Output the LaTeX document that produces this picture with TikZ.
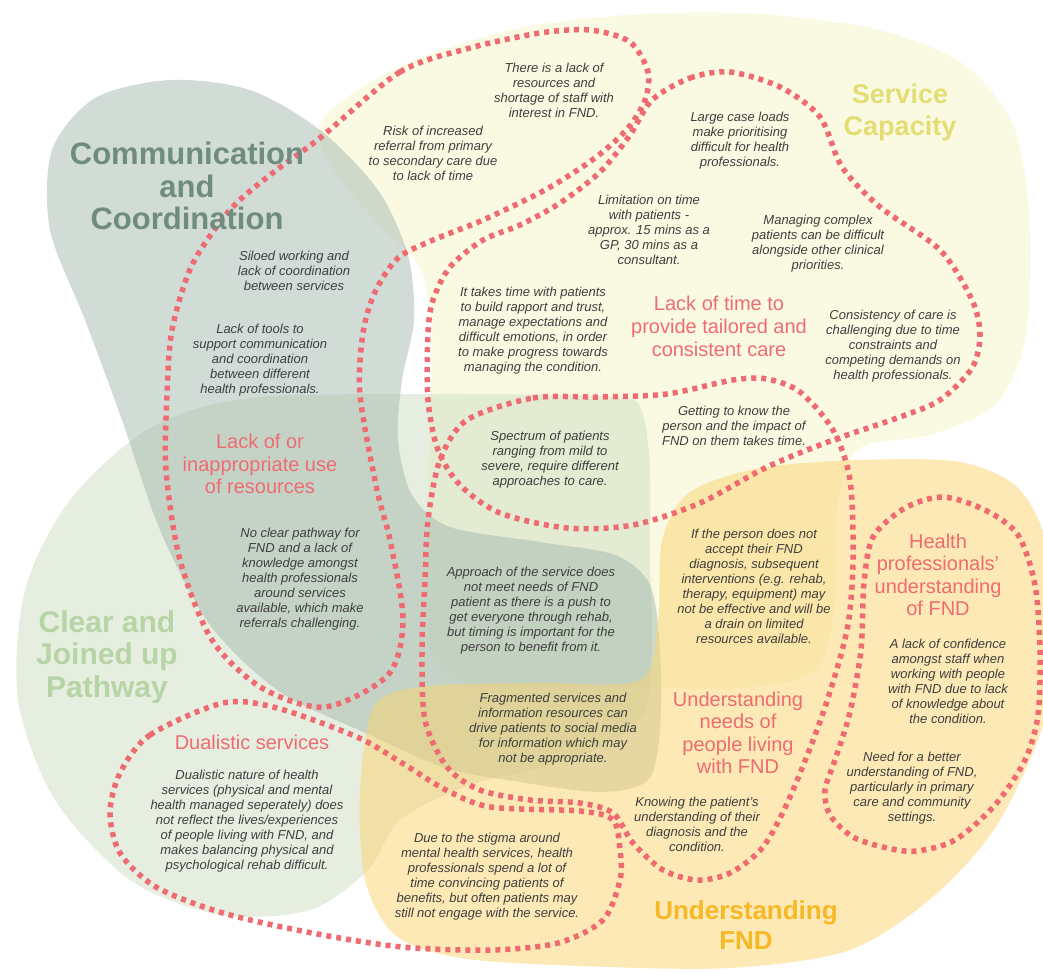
\documentclass[tikz,border=0pt]{standalone}
\usepackage{fontspec}
\setmainfont{Liberation Sans}
\usepackage{tikz}
\usepackage{xcolor}

\definecolor{capyellow}{HTML}{F5F5C7}
\definecolor{pathgreen}{HTML}{CDDDC1}
\definecolor{commgrey}{HTML}{A5B9B0}
\definecolor{fndorange}{HTML}{FBD36D}
\definecolor{commtext}{HTML}{6F8C7E}
\definecolor{captext}{HTML}{E4DD72}
\definecolor{pathtext}{HTML}{B6D4A5}
\definecolor{fndtext}{HTML}{F7B825}
\definecolor{subred}{HTML}{EF6B72}
\definecolor{findgrey}{HTML}{3E3E3E}

\tikzset{
    blob/.style={fill opacity=0.5},
    subloop/.style={draw=subred, line width=5.5pt, dash pattern=on 5pt off 5pt},
    theme/.style={align=center, inner sep=0pt, font=\fontsize{31}{32.5}\selectfont\bfseries},
    subtheme/.style={align=center, inner sep=0pt, text=subred, font=\fontsize{20}{22.5}\selectfont},
    finding/.style={align=center, inner sep=0pt, text=findgrey, font=\fontsize{13}{15}\selectfont\itshape}
}

\begin{document}
\begin{tikzpicture}[x=1pt, y=-1pt]
        \useasboundingbox (0, 0) rectangle (1043, 971);
        % Theme areas
        \fill [blob, capyellow] plot [smooth cycle] coordinates {(318,130) (350,95) (420,58) (520,28) (640,14) (760,14) (880,30) (965,65) (1015,130) (1030,230) (1025,340) (995,405) (930,435) (860,448) (838,500) (835,600) (815,670) (740,688) (600,686) (470,684) (430,640) (428,520) (430,420) (432,330) (420,268) (380,225) (340,180)};
        \fill [blob, pathgreen] plot [smooth cycle] coordinates {(250,398) (440,394) (615,397) (642,412) (650,470) (650,560) (652,650) (640,720) (570,760) (470,785) (400,820) (368,870) (310,910) (220,915) (130,880) (55,800) (18,700) (25,590) (70,500) (150,428)};
        \fill [blob, commgrey] plot [smooth cycle] coordinates {(170,80) (250,90) (320,130) (378,190) (408,255) (414,320) (402,380) (398,440) (412,495) (450,527) (540,542) (615,555) (650,585) (660,650) (660,730) (648,780) (600,792) (520,782) (445,768) (370,735) (280,692) (210,625) (160,530) (122,420) (85,320) (50,230) (52,150) (95,98)};
        \fill [blob, fndorange] plot [smooth cycle] coordinates {(375,705) (430,686) (540,683) (640,680) (658,620) (662,540) (690,492) (760,468) (860,460) (960,462) (1020,490) (1050,560) (1050,700) (1000,820) (935,895) (850,950) (730,968) (580,966) (460,958) (395,935) (365,880) (360,790)};
        % Sub-theme loops
        \draw [subloop] plot [smooth cycle] coordinates {(320,138) (400,72) (470,48) (540,33) (590,30) (630,42) (648,72) (645,100) (628,128) (595,158) (545,190) (483,220) (433,240) (398,258) (375,292) (363,333) (360,395) (377,490) (390,540) (403,620) (388,675) (325,707) (262,688) (212,640) (180,560) (166,470) (167,395) (172,330) (192,265) (230,210) (270,175)};
        \draw [subloop] plot [smooth cycle] coordinates {(652,100) (690,78) (730,72) (780,87) (820,117) (842,167) (880,207) (940,250) (972,300) (980,335) (972,368) (940,400) (900,417) (833,440) (767,467) (700,503) (633,525) (567,528) (500,513) (460,485) (438,450) (428,400) (428,333) (433,300) (450,267) (483,240) (520,225) (560,203) (600,172) (630,135)};
        \draw [subloop] plot [smooth cycle] coordinates {(467,420) (533,398) (600,397) (667,394) (733,380) (767,379) (800,392) (833,430) (850,480) (853,560) (847,630) (823,713) (790,797) (763,847) (730,873) (697,880) (663,870) (633,843) (613,813) (580,803) (530,800) (480,790) (447,767) (425,720) (422,650) (425,580) (428,520) (440,460)};
        \draw [subloop] plot [smooth cycle] coordinates {(943,497) (985,510) (1018,535) (1035,585) (1040,650) (1038,715) (1025,760) (995,805) (955,840) (917,851) (887,848) (853,837) (830,815) (825,790) (835,760) (850,712) (861,650) (864,583) (873,537) (905,508)};
        \draw [subloop] plot [smooth cycle] coordinates {(120,773) (150,735) (223,703) (277,708) (357,737) (402,763) (446,790) (491,807) (580,811) (613,820) (620,850) (620,880) (603,920) (558,943) (491,950) (402,947) (312,933) (223,913) (156,887) (120,853) (110,813)};
        % Theme titles
        \node (comm) [theme, text=commtext] at (187, 186) {Communication\\and\\Coordination};
        \node (capacity) [theme, text=captext, font=\fontsize{27}{32}\selectfont\bfseries] at (900, 113) {Service\\Capacity};
        \node (pathway) [theme, text=pathtext, font=\fontsize{30}{32.5}\selectfont\bfseries] at (107, 657) {Clear and\\Joined up\\Pathway};
        \node (understanding) [theme, text=fndtext, font=\fontsize{26}{30}\selectfont\bfseries] at (746, 925) {Understanding\\FND};
        % Sub-theme titles
        \node (time) [subtheme, font=\fontsize{20}{23}\selectfont] at (719, 326) {Lack of time to\\provide tailored and\\consistent care};
        \node (resources) [subtheme] at (260, 464) {Lack of or\\inappropriate use\\of resources};
        \node (dualistic) [subtheme] at (252, 742) {Dualistic services};
        \node (needs) [subtheme] at (738, 733) {Understanding\\needs of\\people living\\with FND};
        \node (hpknow) [subtheme] at (938, 575) {Health\\professionals’\\understanding\\of FND};
        % Findings
        \node (staff) [finding] at (554, 90) {There is a lack of\\resources and\\shortage of staff with\\interest in FND.};
        \node (referral) [finding] at (433, 153) {Risk of increased\\referral from primary\\to secondary care due\\to lack of time};
        \node (caseloads) [finding] at (740, 141) {Large case loads\\make prioritising\\difficult for health\\professionals.};
        \node (limit) [finding] at (649, 230) {Limitation on time\\with patients -\\approx. 15 mins as a\\GP, 30 mins as a\\consultant.};
        \node (complex) [finding] at (818, 244) {Managing complex\\patients can be difficult\\alongside other clinical\\priorities.};
        \node (rapport) [finding] at (533, 331) {It takes time with patients\\to build rapport and trust,\\manage expectations and\\difficult emotions, in order\\to make progress towards\\managing the condition.};
        \node (consistency) [finding] at (893, 346) {Consistency of care is\\challenging due to time\\constraints and\\competing demands on\\health professionals.};
        \node (siloed) [finding] at (294, 271) {Siloed working and\\lack of coordination\\between services};
        \node (tools) [finding] at (260, 360) {Lack of tools to\\support communication\\and coordination\\between different\\health professionals.};
        \node (person) [finding] at (734, 426) {Getting to know the\\person and the impact of\\FND on them takes time.};
        \node (spectrum) [finding] at (550, 460) {Spectrum of patients\\ranging from mild to\\severe, require different\\approaches to care.};
        \node (nopath) [finding] at (300, 579) {No clear pathway for\\FND and a lack of\\knowledge amongst\\health professionals\\around services\\available, which make\\referrals challenging.};
        \node (approach) [finding] at (531, 611) {Approach of the service does\\not meet needs of FND\\patient as there is a push to\\get everyone through rehab,\\but timing is important for the\\person to benefit from it.};
        \node (accept) [finding] at (754, 586) {If the person does not\\accept their FND\\diagnosis, subsequent\\interventions (e.g. rehab,\\therapy, equipment) may\\not be effective and will be\\a drain on limited\\resources available.};
        \node (confidence) [finding] at (948, 681) {A lack of confidence\\amongst staff when\\working with people\\with FND due to lack\\of knowledge about\\the condition.};
        \node (fragmented) [finding] at (553, 729) {Fragmented services and\\information resources can\\drive patients to social media\\for information which may\\not be appropriate.};
        \node (knowing) [finding] at (697, 824) {Knowing the patient’s\\understanding of their\\diagnosis and the\\condition.};
        \node (better) [finding] at (912, 788) {Need for a better\\understanding of FND,\\particularly in primary\\care and community\\settings.};
        \node (dualnature) [finding] at (247, 821) {Dualistic nature of health\\services (physical and mental\\health managed seperately) does\\not reflect the lives/experiences\\of people living with FND, and\\makes balancing physical and\\psychological rehab difficult.};
        \node (stigma) [finding] at (487, 877) {Due to the stigma around\\mental health services, health\\professionals spend a lot of\\time convincing patients of\\benefits, but often patients may\\still not engage with the service.};
\end{tikzpicture}
\end{document}
